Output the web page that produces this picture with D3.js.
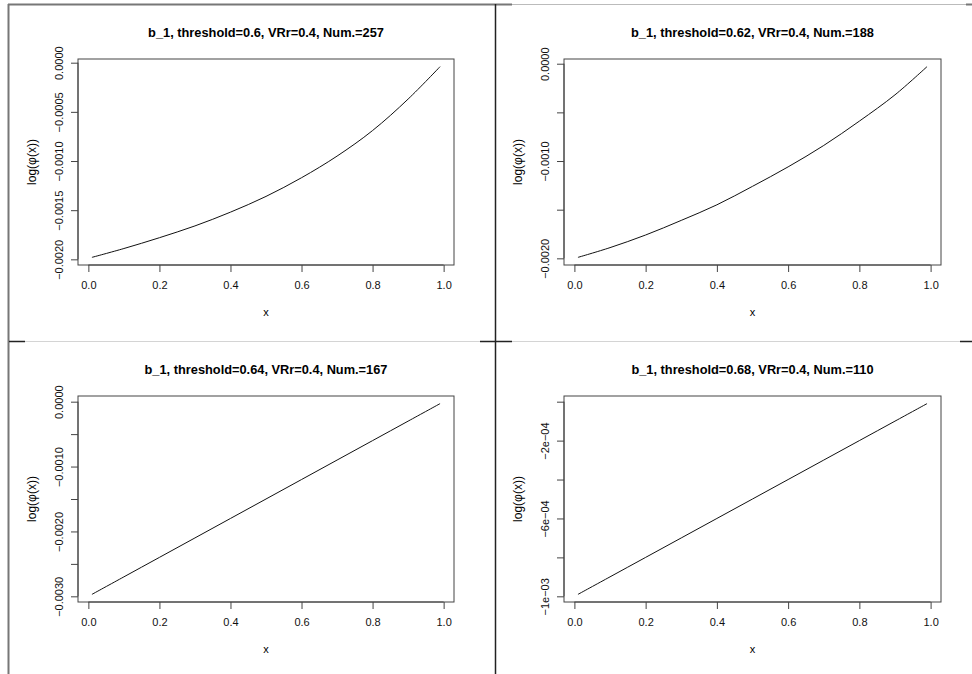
<!DOCTYPE html>
<html lang="en">
<head>
<meta charset="utf-8">
<title>log(phi(x)) panels</title>
<style>
  body { margin: 0; background: #fff; }
  svg { display: block; font-family: "Liberation Sans", Arial, Helvetica, sans-serif; }
</style>
</head>
<body>
<svg width="972" height="674"></svg>
<script src="https://cdn.jsdelivr.net/npm/d3@7"></script>
<script>
// x grid used by every panel
var xValues = [0.01, 0.1, 0.2, 0.3, 0.4, 0.5, 0.6, 0.7, 0.8, 0.9, 0.99];

// log(phi(x))
var seriesT060 = [-0.00198, -0.00189, -0.00178, -0.00166, -0.00152, -0.00136, -0.00117, -0.00095, -0.00069, -0.00037, -0.00004];
var seriesT062 = [-0.00199, -0.00189, -0.00176, -0.00161, -0.00145, -0.00126, -0.00106, -0.00084, -0.00059, -0.00032, -0.00003];
var seriesT064 = [-0.00297, -0.00270, -0.00240, -0.00210, -0.00180, -0.00150, -0.00120, -0.00090, -0.00060, -0.00030, -0.00003];
var seriesT068 = [-0.00099, -0.00090, -0.00080, -0.00070, -0.00060, -0.00050, -0.00040, -0.00030, -0.00020, -0.00010, -0.00001];

var titles = [
  "b_1, threshold=0.6, VRr=0.4, Num.=257",
  "b_1, threshold=0.62, VRr=0.4, Num.=188",
  "b_1, threshold=0.64, VRr=0.4, Num.=167",
  "b_1, threshold=0.68, VRr=0.4, Num.=110"
];

var xTicks = [0, 0.2, 0.4, 0.6, 0.8, 1.0];
var xTickLabels = ["0.0", "0.2", "0.4", "0.6", "0.8", "1.0"];

var yTicksT060 = [0, -0.0005, -0.001, -0.0015, -0.002];
var yLabelsT060 = ["0.0000", "\u22120.0005", "\u22120.0010", "\u22120.0015", "\u22120.0020"];
var yTicksT062 = [0, -0.0005, -0.001, -0.0015, -0.002];
var yLabelsT062 = ["0.0000", "", "\u22120.0010", "", "\u22120.0020"];
var yTicksT064 = [0, -0.0005, -0.001, -0.0015, -0.002, -0.0025, -0.003];
var yLabelsT064 = ["0.0000", "", "\u22120.0010", "", "\u22120.0020", "", "\u22120.0030"];
var yTicksT068 = [0, -0.0002, -0.0004, -0.0006, -0.0008, -0.001];
var yLabelsT068 = ["", "\u22122e\u221204", "", "\u22126e\u221204", "", "\u22121e\u221203"];

var svg = d3.select("svg");

// frame lines of the pasted screenshots
function seg(x1, y1, x2, y2, color, w) {
  svg.append("line")
      .attr("x1", x1).attr("y1", y1).attr("x2", x2).attr("y2", y2)
      .attr("stroke", color).attr("stroke-width", w);
}
seg(8.5, 4, 8.5, 674, "#777", 2);
seg(8, 4.5, 512, 4.5, "#777", 2);
seg(512, 4.5, 966, 4.5, "#bbb", 1);
seg(966, 4.5, 972, 4.5, "#777", 2);
seg(495.5, 4, 495.5, 674, "#222", 1.5);
seg(9, 341.5, 25, 341.5, "#222", 1.5);
seg(25, 341.5, 480, 341.5, "#d4d4d4", 1);
seg(480, 341.5, 512, 341.5, "#222", 1.5);
seg(512, 341.5, 960, 341.5, "#d4d4d4", 1);
seg(960, 341.5, 972, 341.5, "#222", 1.5);

// R style 4% padded range
function padded(ext) {
  var d = (ext[1] - ext[0]) * 0.04;
  return [ext[0] - d, ext[1] + d];
}

var panels = [
  {left: 78, right: 454, top: 59, bottom: 265, ys: seriesT060, title: titles[0], yTicks: yTicksT060, yLabels: yLabelsT060},
  {left: 564, right: 941, top: 59, bottom: 265, ys: seriesT062, title: titles[1], yTicks: yTicksT062, yLabels: yLabelsT062},
  {left: 78, right: 454, top: 396, bottom: 602, ys: seriesT064, title: titles[2], yTicks: yTicksT064, yLabels: yLabelsT064},
  {left: 564, right: 941, top: 396, bottom: 602, ys: seriesT068, title: titles[3], yTicks: yTicksT068, yLabels: yLabelsT068}
];

panels.forEach(function(p) {
  var x = d3.scaleLinear().domain(padded(d3.extent(xValues))).range([p.left, p.right]);
  var y = d3.scaleLinear().domain(padded(d3.extent(p.ys))).range([p.bottom, p.top]);
  var g = svg.append("g");

  var xAxis = g.append("g")
      .attr("transform", "translate(0," + p.bottom + ")")
      .call(d3.axisBottom(x).tickValues(xTicks).tickSize(7).tickPadding(9)
        .tickFormat(function(d, i) { return xTickLabels[i]; }));
  xAxis.select(".domain").attr("d", "M" + x(0) + ",0H" + x(1)).attr("stroke", "#444");
  xAxis.selectAll(".tick line").attr("stroke", "#444");
  xAxis.selectAll("text").attr("font-size", 11).attr("fill", "#111");

  var yAxis = g.append("g")
      .attr("transform", "translate(" + p.left + ",0)")
      .call(d3.axisLeft(y).tickValues(p.yTicks).tickSize(7).tickPadding(0)
        .tickFormat(function(d, i) { return p.yLabels[i]; }));
  var yT = p.yTicks;
  yAxis.select(".domain").attr("d", "M0," + y(yT[0]) + "V" + y(yT[yT.length - 1])).attr("stroke", "#444");
  yAxis.selectAll(".tick line").attr("stroke", "#444");
  yAxis.selectAll("text")
      .attr("font-size", 11).attr("fill", "#111")
      .attr("text-anchor", "middle")
      .attr("x", null).attr("dy", null)
      .attr("transform", "translate(-15,0) rotate(-90)");

  g.append("rect")
      .attr("x", p.left).attr("y", p.top)
      .attr("width", p.right - p.left).attr("height", p.bottom - p.top)
      .attr("fill", "none").attr("stroke", "#444").attr("stroke-width", 1);

  var line = d3.line()
      .curve(d3.curveCatmullRom)
      .x(function(d, i) { return x(xValues[i]); })
      .y(function(d) { return y(d); });

  g.append("path")
      .datum(p.ys)
      .attr("fill", "none")
      .attr("stroke", "#111")
      .attr("stroke-width", 1)
      .attr("d", line);

  g.append("text")
      .attr("x", (p.left + p.right) / 2)
      .attr("y", p.top - 22)
      .attr("text-anchor", "middle")
      .attr("font-size", 12.8)
      .attr("font-weight", "bold")
      .text(p.title);

  g.append("text")
      .attr("x", (p.left + p.right) / 2)
      .attr("y", p.bottom + 51)
      .attr("text-anchor", "middle")
      .attr("font-size", 11)
      .text("x");

  g.append("text")
      .attr("transform", "translate(" + (p.left - 42) + "," + ((p.top + p.bottom) / 2) + ") rotate(-90)")
      .attr("text-anchor", "middle")
      .attr("font-size", 12)
      .text("log(\u03c6(x))");
});
</script>
</body>
</html>
